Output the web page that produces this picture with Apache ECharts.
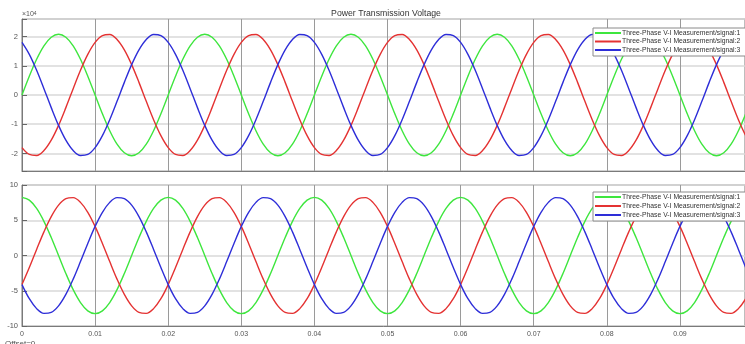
<!DOCTYPE html>
<html>
<head>
<meta charset="utf-8">
<script src="https://cdn.jsdelivr.net/npm/echarts@6/dist/echarts.min.js"></script>
<style>html,body{margin:0;padding:0;background:#fff;}#c{width:745px;height:344px;}</style>
</head>
<body>
<div id="c"></div>
<script>
// time samples (s)
const time = [0,0.001,0.002,0.003,0.004,0.005,0.006,0.007,0.008,0.009,
0.010,0.011,0.012,0.013,0.014,0.015,0.016,0.017,0.018,0.019,
0.020,0.021,0.022,0.023,0.024,0.025,0.026,0.027,0.028,0.029,
0.030,0.031,0.032,0.033,0.034,0.035,0.036,0.037,0.038,0.039,
0.040,0.041,0.042,0.043,0.044,0.045,0.046,0.047,0.048,0.049,
0.050,0.051,0.052,0.053,0.054,0.055,0.056,0.057,0.058,0.059,
0.060,0.061,0.062,0.063,0.064,0.065,0.066,0.067,0.068,0.069,
0.070,0.071,0.072,0.073,0.074,0.075,0.076,0.077,0.078,0.079,
0.080,0.081,0.082,0.083,0.084,0.085,0.086,0.087,0.088,0.089,
0.090,0.091,0.092,0.093,0.094,0.095,0.096,0.097,0.098,0.099,0.100];

// Top panel (x 10^4)
const topSignal1 = [0,0.643,1.223,1.683,1.978,2.08,1.978,1.683,1.223,0.643,0,-0.643,-1.223,-1.683,-1.978,-2.08,-1.978,-1.683,-1.223,-0.643,
0,0.643,1.223,1.683,1.978,2.08,1.978,1.683,1.223,0.643,0,-0.643,-1.223,-1.683,-1.978,-2.08,-1.978,-1.683,-1.223,-0.643,
0,0.643,1.223,1.683,1.978,2.08,1.978,1.683,1.223,0.643,0,-0.643,-1.223,-1.683,-1.978,-2.08,-1.978,-1.683,-1.223,-0.643,
0,0.643,1.223,1.683,1.978,2.08,1.978,1.683,1.223,0.643,0,-0.643,-1.223,-1.683,-1.978,-2.08,-1.978,-1.683,-1.223,-0.643,
0,0.643,1.223,1.683,1.978,2.08,1.978,1.683,1.223,0.643,0,-0.643,-1.223,-1.683,-1.978,-2.08,-1.978,-1.683,-1.223,-0.643,0];
const topSignal2 = [-1.801,-2.034,-2.069,-1.900,-1.546,-1.04,-0.432,0.217,0.846,1.392,1.801,2.034,2.069,1.900,1.546,1.04,0.432,-0.217,-0.846,-1.392,
-1.801,-2.034,-2.069,-1.900,-1.546,-1.04,-0.432,0.217,0.846,1.392,1.801,2.034,2.069,1.900,1.546,1.04,0.432,-0.217,-0.846,-1.392,
-1.801,-2.034,-2.069,-1.900,-1.546,-1.04,-0.432,0.217,0.846,1.392,1.801,2.034,2.069,1.900,1.546,1.04,0.432,-0.217,-0.846,-1.392,
-1.801,-2.034,-2.069,-1.900,-1.546,-1.04,-0.432,0.217,0.846,1.392,1.801,2.034,2.069,1.900,1.546,1.04,0.432,-0.217,-0.846,-1.392,
-1.801,-2.034,-2.069,-1.900,-1.546,-1.04,-0.432,0.217,0.846,1.392,1.801,2.034,2.069,1.900,1.546,1.04,0.432,-0.217,-0.846,-1.392,-1.801];
const topSignal3 = [1.801,1.392,0.846,0.217,-0.432,-1.04,-1.546,-1.900,-2.069,-2.034,-1.801,-1.392,-0.846,-0.217,0.432,1.04,1.546,1.900,2.069,2.034,
1.801,1.392,0.846,0.217,-0.432,-1.04,-1.546,-1.900,-2.069,-2.034,-1.801,-1.392,-0.846,-0.217,0.432,1.04,1.546,1.900,2.069,2.034,
1.801,1.392,0.846,0.217,-0.432,-1.04,-1.546,-1.900,-2.069,-2.034,-1.801,-1.392,-0.846,-0.217,0.432,1.04,1.546,1.900,2.069,2.034,
1.801,1.392,0.846,0.217,-0.432,-1.04,-1.546,-1.900,-2.069,-2.034,-1.801,-1.392,-0.846,-0.217,0.432,1.04,1.546,1.900,2.069,2.034,
1.801,1.392,0.846,0.217,-0.432,-1.04,-1.546,-1.900,-2.069,-2.034,-1.801,-1.392,-0.846,-0.217,0.432,1.04,1.546,1.900,2.069,2.034,1.801];

// Bottom panel
const botSignal1 = [8.25,7.847,6.674,4.849,2.549,0,-2.549,-4.849,-6.674,-7.847,-8.25,-7.847,-6.674,-4.849,-2.549,0,2.549,4.849,6.674,7.847,
8.25,7.847,6.674,4.849,2.549,0,-2.549,-4.849,-6.674,-7.847,-8.25,-7.847,-6.674,-4.849,-2.549,0,2.549,4.849,6.674,7.847,
8.25,7.847,6.674,4.849,2.549,0,-2.549,-4.849,-6.674,-7.847,-8.25,-7.847,-6.674,-4.849,-2.549,0,2.549,4.849,6.674,7.847,
8.25,7.847,6.674,4.849,2.549,0,-2.549,-4.849,-6.674,-7.847,-8.25,-7.847,-6.674,-4.849,-2.549,0,2.549,4.849,6.674,7.847,
8.25,7.847,6.674,4.849,2.549,0,-2.549,-4.849,-6.674,-7.847,-8.25,-7.847,-6.674,-4.849,-2.549,0,2.549,4.849,6.674,7.847,8.25];
const botSignal2 = [-4.125,-1.715,0.862,3.355,5.520,7.145,8.069,8.205,7.536,6.131,4.125,1.715,-0.862,-3.355,-5.520,-7.145,-8.069,-8.205,-7.536,-6.131,
-4.125,-1.715,0.862,3.355,5.520,7.145,8.069,8.205,7.536,6.131,4.125,1.715,-0.862,-3.355,-5.520,-7.145,-8.069,-8.205,-7.536,-6.131,
-4.125,-1.715,0.862,3.355,5.520,7.145,8.069,8.205,7.536,6.131,4.125,1.715,-0.862,-3.355,-5.520,-7.145,-8.069,-8.205,-7.536,-6.131,
-4.125,-1.715,0.862,3.355,5.520,7.145,8.069,8.205,7.536,6.131,4.125,1.715,-0.862,-3.355,-5.520,-7.145,-8.069,-8.205,-7.536,-6.131,
-4.125,-1.715,0.862,3.355,5.520,7.145,8.069,8.205,7.536,6.131,4.125,1.715,-0.862,-3.355,-5.520,-7.145,-8.069,-8.205,-7.536,-6.131,-4.125];
const botSignal3 = [-4.125,-6.131,-7.536,-8.205,-8.069,-7.145,-5.520,-3.355,-0.862,1.715,4.125,6.131,7.536,8.205,8.069,7.145,5.520,3.355,0.862,-1.715,
-4.125,-6.131,-7.536,-8.205,-8.069,-7.145,-5.520,-3.355,-0.862,1.715,4.125,6.131,7.536,8.205,8.069,7.145,5.520,3.355,0.862,-1.715,
-4.125,-6.131,-7.536,-8.205,-8.069,-7.145,-5.520,-3.355,-0.862,1.715,4.125,6.131,7.536,8.205,8.069,7.145,5.520,3.355,0.862,-1.715,
-4.125,-6.131,-7.536,-8.205,-8.069,-7.145,-5.520,-3.355,-0.862,1.715,4.125,6.131,7.536,8.205,8.069,7.145,5.520,3.355,0.862,-1.715,
-4.125,-6.131,-7.536,-8.205,-8.069,-7.145,-5.520,-3.355,-0.862,1.715,4.125,6.131,7.536,8.205,8.069,7.145,5.520,3.355,0.862,-1.715,-4.125];

const seriesNames = ['Three-Phase V-I Measurement/signal:1','Three-Phase V-I Measurement/signal:2','Three-Phase V-I Measurement/signal:3'];
const colors = ['#3ee63e','#e43232','#2e2ed8'];
const xTicks = ['0','0.01','0.02','0.03','0.04','0.05','0.06','0.07','0.08','0.09'];
const title = 'Power Transmission Voltage';

const pair = arr => time.map((t, i) => [t, arr[i]]);
const chart = echarts.init(document.getElementById('c'), null, {renderer: 'canvas'});

const xAxisBase = (gi, showLabels) => ({
  type: 'value', gridIndex: gi, min: 0, max: 0.0989, interval: 0.01,
  axisLine: {show: true, onZero: false, lineStyle: {color: '#7a7a7a', width: 1}},
  axisTick: {show: false},
  axisLabel: {show: showLabels, color: '#555', fontSize: 7, fontFamily: 'Liberation Sans', margin: 5, showMaxLabel: false,
    formatter: v => { const i = Math.round(v * 100); return Math.abs(v * 100 - i) < 1e-6 && i < xTicks.length ? xTicks[i] : ''; }},
  splitLine: {show: true, lineStyle: {color: '#9a9a9a', width: 1}}
});
const yAxisBase = (gi, min, max, splitNumber) => ({
  type: 'value', gridIndex: gi, min: min, max: max, splitNumber: splitNumber,
  axisLine: {show: true, lineStyle: {color: '#7a7a7a', width: 1}},
  axisTick: {show: true, inside: true, length: 5, lineStyle: {color: '#666'}},
  axisLabel: {color: '#555', fontSize: 7.5, fontFamily: 'Liberation Sans', margin: 4,
    formatter: v => Number.isInteger(v) ? String(v) : ''},
  splitLine: {show: true, lineStyle: {color: '#d9d9d9', width: 1.5}}
});

const mkSeries = (data, idx, gi) => ({
  name: seriesNames[idx], type: 'line', xAxisIndex: gi, yAxisIndex: gi,
  data: pair(data), smooth: 0.35, symbol: 'none', showSymbol: false, clip: true,
  lineStyle: {color: colors[idx], width: 1.4}, itemStyle: {color: colors[idx]}
});

const legendBase = (top, gap) => ({
  orient: 'vertical', left: 593, top: top,
  backgroundColor: '#fff', borderColor: '#8a8a8a', borderWidth: 1,
  padding: [1, 30, 2, 2], itemWidth: 26, itemHeight: 2, itemGap: gap,
  icon: 'rect',
  textStyle: {fontSize: 6.8, lineHeight: 8, color: '#333', fontFamily: 'Liberation Sans', padding: [0, 0, 0, -4]},
  data: seriesNames
});

chart.setOption({
  animation: false,
  backgroundColor: '#fff',
  title: {text: title, left: 386, top: 9, textAlign: 'center', padding: 0,
    textStyle: {fontSize: 8.7, fontWeight: 'normal', color: '#333', fontFamily: 'Liberation Sans'}},
  grid: [
    {left: 22, top: 19, height: 152, right: 0, show: true, borderColor: '#7a7a7a', borderWidth: 1, backgroundColor: '#fff'},
    {left: 22, top: 185, height: 141, right: 0, show: true, borderColor: '#7a7a7a', borderWidth: 1, backgroundColor: '#fff'}
  ],
  xAxis: [xAxisBase(0, false), xAxisBase(1, true)],
  yAxis: [yAxisBase(0, -2.6, 2.6, 5), yAxisBase(1, -10, 10, 4)],
  legend: [
    Object.assign(legendBase(28, 0.5), {id: 'lg0'}),
    Object.assign(legendBase(192, 1), {id: 'lg1'})
  ],
  series: [
    mkSeries(topSignal1, 0, 0), mkSeries(topSignal2, 1, 0), mkSeries(topSignal3, 2, 0),
    mkSeries(botSignal1, 0, 1), mkSeries(botSignal2, 1, 1), mkSeries(botSignal3, 2, 1)
  ],
  graphic: [
    {type: 'text', left: 22, top: 11, style: {text: '×10{s|4}', fill: '#555', font: '7px Liberation Sans',
      rich: {s: {fontSize: 5, verticalAlign: 'top', fill: '#555'}}}},
    {type: 'text', left: 5, top: 340, style: {text: 'Offset=0', fill: '#555', font: '8px Liberation Sans'}}
  ]
});
</script>
</body>
</html>
